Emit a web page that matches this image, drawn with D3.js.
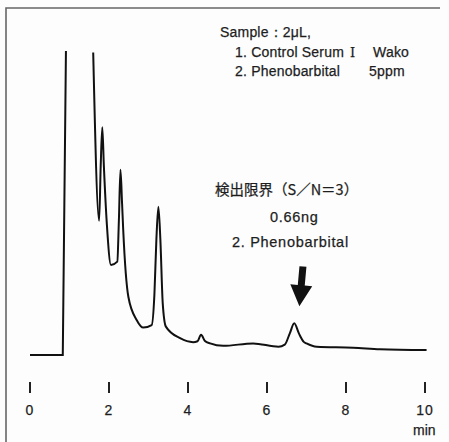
<!DOCTYPE html>
<html>
<head>
<meta charset="utf-8">
<script src="https://cdn.jsdelivr.net/npm/d3@7"></script>
<style>
  body { margin: 0; background: #fdfdfd; }
  svg { display: block; }
  text { fill: #1e1e1e; stroke: #1e1e1e; stroke-width: 0.25; }
</style>
</head>
<body>
<div id="chart"></div>
<script>
var width = 449;
var height = 442;

// injection spike (pen runs off the top)
var injTime   = [0.00, 0.83, 0.91];
var injSignal = [0.0,  0.0,  99.7];

// main trace after the pen comes back on scale
var traceTime   = [1.60, 1.75, 1.79, 1.83, 1.87, 1.95, 2.05, 2.21, 2.25, 2.29, 2.33, 2.36, 2.49, 2.70, 2.87, 3.08, 3.15, 3.20, 3.25, 3.30, 3.36, 3.44, 3.80, 4.13, 4.24, 4.33, 4.43, 4.56, 4.89, 5.65, 6.29, 6.45, 6.58, 6.69, 6.81, 6.93, 7.00, 7.26, 8.18, 8.86, 10.04];
var traceSignal = [99.2, 44.0, 62.0, 74.7, 62.0, 42.0, 29.5, 30.6, 44.0, 60.7, 50.0, 41.0, 19.1, 11.5, 9.0,  9.8,  20.0, 38.0, 48.6, 38.0, 17.0, 9.3,  5.5,  4.2,  4.5,  6.6,  4.6,  3.8,  3.0,  3.8,  2.7,  3.4,  7.2,  10.4, 7.0,  4.3,  3.8,  2.7,  2.4,  1.9,  1.6];

var tickValues = [0, 2, 4, 6, 8, 10];
var unitLabel = "min";

// sample block pieces: [text, x, y, serif?]
var sampleParts = [
  ["Sample：2μL,", 220, 37, false],
  ["1. Control Serum", 235, 57, false],
  ["Ⅰ", 350, 57, true],
  ["Wako", 373, 57, false],
  ["2. Phenobarbital", 235, 76, false],
  ["5ppm", 369, 76, false]
];

var noteLines = ["検出限界（S／N＝3）", "0.66ng", "2. Phenobarbital"];

// arrow annotation, in data units
var arrowTail = [6.91, 29];
var arrowTip  = [6.82, 16];

var x = d3.scaleLinear().domain([0, 10]).range([30, 425]);
var y = d3.scaleLinear().domain([0, 100]).range([355, 50]);

var svg = d3.select("#chart")
  .append("svg")
  .attr("width", width)
  .attr("height", height);

// frame: left and top edges only
svg.append("path")
  .attr("d", "M6,442 L6,8 L440,8")
  .attr("fill", "none")
  .attr("stroke", "#666")
  .attr("stroke-width", 1.6);

var line = d3.line()
  .x(function(d) { return x(d[0]); })
  .y(function(d) { return y(d[1]); })
  .curve(d3.curveMonotoneX);

var injData = injTime.map(function(t, i) { return [t, injSignal[i]]; });
var traceData = traceTime.map(function(t, i) { return [t, traceSignal[i]]; });

svg.append("path")
  .datum(injData)
  .attr("d", d3.line().x(function(d) { return x(d[0]); }).y(function(d) { return y(d[1]); }))
  .attr("fill", "none")
  .attr("stroke", "#111")
  .attr("stroke-width", 2);

svg.append("path")
  .datum(traceData)
  .attr("d", line)
  .attr("fill", "none")
  .attr("stroke", "#111")
  .attr("stroke-width", 2)
  .attr("stroke-linejoin", "round");

// time axis: short vertical ticks with labels below
var axis = svg.append("g");
axis.selectAll("line")
  .data(tickValues).enter()
  .append("line")
  .attr("x1", function(d) { return x(d); })
  .attr("x2", function(d) { return x(d); })
  .attr("y1", 382)
  .attr("y2", 393)
  .attr("stroke", "#222")
  .attr("stroke-width", 2);

axis.selectAll("text")
  .data(tickValues).enter()
  .append("text")
  .attr("x", function(d) { return x(d); })
  .attr("y", 415)
  .attr("text-anchor", "middle")
  .attr("font-family", "Liberation Sans, Arial, sans-serif")
  .attr("font-size", 14)
  .attr("letter-spacing", 1)
  .text(function(d) { return d; });

svg.append("text")
  .attr("x", 413)
  .attr("y", 435)
  .attr("font-family", "Liberation Sans, Arial, sans-serif")
  .attr("font-size", 14)
  .text(unitLabel);

// sample block, top right
svg.selectAll(".sample")
  .data(sampleParts).enter()
  .append("text")
  .attr("class", "sample")
  .attr("x", function(d) { return d[1]; })
  .attr("y", function(d) { return d[2]; })
  .attr("font-family", function(d) { return d[3] ? "DejaVu Serif, serif" : "Liberation Sans, Arial, sans-serif"; })
  .attr("font-size", function(d) { return d[3] ? 13 : 14; })
  .attr("letter-spacing", 0.2)
  .text(function(d) { return d[0]; });

// detection limit note
var noteX = [215, 270, 232];
var noteY = [195, 222, 247];
svg.selectAll(".note")
  .data(noteLines).enter()
  .append("text")
  .attr("class", "note")
  .attr("x", function(d, i) { return noteX[i]; })
  .attr("y", function(d, i) { return noteY[i]; })
  .attr("font-family", function(d, i) { return i == 0 ? "'Noto Sans CJK JP', sans-serif" : "Liberation Sans, Arial, sans-serif"; })
  .attr("font-size", 14.5)
  .attr("letter-spacing", function(d, i) { return i == 0 ? 0 : 0.7; })
  .text(function(d) { return d; });

// arrow pointing to the phenobarbital peak
var tx = x(arrowTip[0]), ty = y(arrowTip[1]);
var sx = x(arrowTail[0]), sy = y(arrowTail[1]);
var ang = Math.atan2(ty - sy, tx - sx) * 180 / Math.PI;
var len = Math.sqrt((tx - sx) * (tx - sx) + (ty - sy) * (ty - sy));
var headLen = 21, headW = 11, shaftW = 3.5;
svg.append("path")
  .attr("transform", "translate(" + sx + "," + sy + ") rotate(" + ang + ")")
  .attr("d", "M0," + (-shaftW) + " L" + (len - headLen) + "," + (-shaftW) +
             " L" + (len - headLen) + "," + (-headW) + " L" + len + ",0" +
             " L" + (len - headLen) + "," + headW + " L" + (len - headLen) + "," + shaftW +
             " L0," + shaftW + " Z")
  .attr("fill", "#111");
</script>
</body>
</html>
